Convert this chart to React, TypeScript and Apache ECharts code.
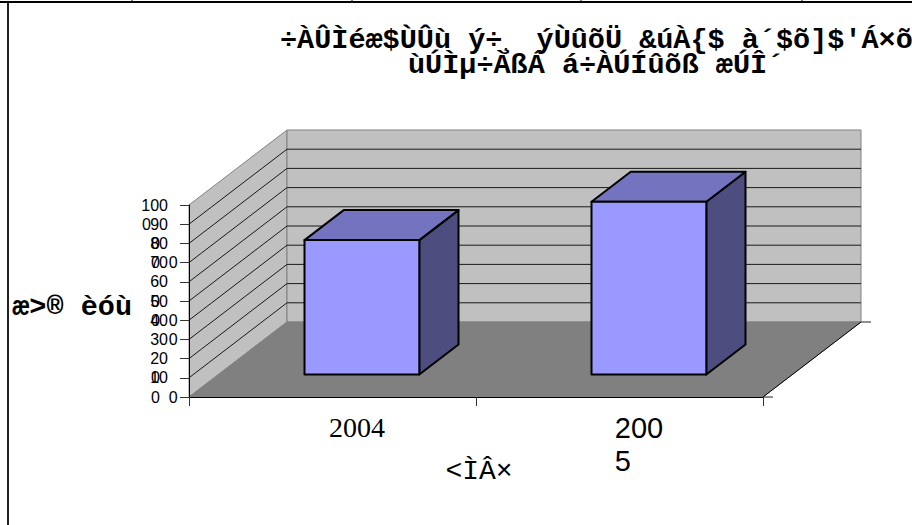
import React, { useEffect, useRef } from "react";
import * as echarts from "echarts";

const titleLine1 = "÷ÀÛÌéæ$ÙÛù ý÷¸ ýÙûõÜ &úÀ{$ à´$õ]$'Á×õ";
const titleLine2 = "ùÚÌµ÷ÀßÁ á÷ÀÚÍûõß æÚÎ´";
const yAxisName = "æ>® èóù";
const xAxisName = "<ÌÂ×";
const categories = ["2004", "2005"];
const values = [70, 90];
const gridValues = [10, 20, 30, 40, 50, 60, 70, 80, 90];
const yLabels: Record<number, string> = { 100: "100", 90: "90", 80: "80", 70: "70", 60: "60", 50: "50", 40: "40", 30: "30", 20: "20", 10: "10", 0: "" };
const fs = "\u2007";
const yOverlay: Record<number, string> = {
  100: "",
  90: "0",
  80: fs + "0",
  70: fs + "0" + fs + "0",
  60: "",
  50: fs + "0",
  40: fs + "0" + fs + "0",
  30: fs + fs + fs + "0",
  20: "",
  10: fs + "0",
  0: fs + "0" + fs + "0",
};
const topTicks = [132, 352, 581, 802];

const DX = 98;
const DY = -75;
const FRONT = 0.3;
const DEPTH = 0.4;
const BAR = 0.4;

function corners(api: any) {
  const band = api.size([1, 0])[0];
  const x0 = api.coord([0, 0])[0] - band / 2;
  const x1 = x0 + band * 2;
  const y0 = api.coord([0, 0])[1];
  const y1 = api.coord([0, 100])[1];
  return { x0, x1, y0, y1 };
}

const renderRoom = (_: any, api: any) => {
  const { x0, x1, y0, y1 } = corners(api);
  const wall = { fill: "#C0C0C0", stroke: "#808080", lineWidth: 1 };
  return {
    type: "group",
    children: [
      { type: "polygon", shape: { points: [[x0, y0], [x0, y1], [x0 + DX, y1 + DY], [x0 + DX, y0 + DY]] }, style: wall },
      { type: "polygon", shape: { points: [[x0 + DX, y1 + DY], [x1 + DX, y1 + DY], [x1 + DX, y0 + DY], [x0 + DX, y0 + DY]] }, style: wall },
      { type: "polygon", shape: { points: [[x0, y0], [x0 + DX, y0 + DY], [x1 + DX, y0 + DY], [x1, y0]] }, style: { fill: "#808080", stroke: "#808080", lineWidth: 1 } },
      { type: "line", shape: { x1, y1: y0, x2: x1 + DX, y2: y0 + DY }, style: { stroke: "#000", lineWidth: 1 } },
      { type: "line", shape: { x1, y1: y0, x2: x1 + 10, y2: y0 }, style: { stroke: "#222", lineWidth: 1 } },
      { type: "line", shape: { x1: x1 + DX, y1: y0 + DY, x2: x1 + DX + 10, y2: y0 + DY }, style: { stroke: "#222", lineWidth: 1 } },
    ],
  };
};

const renderGrid = (_: any, api: any) => {
  const { x0, x1 } = corners(api);
  const y = api.coord([0, api.value(0)])[1];
  return {
    type: "polyline",
    shape: { points: [[x0, y], [x0 + DX, y + DY], [x1 + DX, y + DY]] },
    style: { fill: "none", stroke: "#1a1a1a", lineWidth: 1 },
  };
};

const renderBar = (_: any, api: any) => {
  const band = api.size([1, 0])[0];
  const c = api.coord([api.value(0), 0]);
  const t = api.coord([api.value(0), api.value(1)]);
  const w = band * BAR;
  const l = c[0] - w / 2 + DX * FRONT;
  const r = l + w;
  const b = c[1] + DY * FRONT;
  const top = t[1] + DY * FRONT;
  const ox = DX * DEPTH;
  const oy = DY * DEPTH;
  const stroke = { stroke: "#000", lineWidth: 2, lineJoin: "round" };
  return {
    type: "group",
    children: [
      { type: "polygon", shape: { points: [[r, b], [r, top], [r + ox, top + oy], [r + ox, b + oy]] }, style: { fill: "#4D4D80", ...stroke } },
      { type: "polygon", shape: { points: [[l, top], [l + ox, top + oy], [r + ox, top + oy], [r, top]] }, style: { fill: "#7373BF", ...stroke } },
      { type: "rect", shape: { x: l, y: top, width: w, height: b - top }, style: { fill: "#9999FF", ...stroke } },
    ],
  };
};

export default function App() {
  const ref = useRef<HTMLDivElement>(null);
  useEffect(() => {
    const chart = echarts.init(ref.current!, null, { renderer: "svg" });
    const mono = "'Liberation Mono', monospace";
    const sans = "'Liberation Sans', sans-serif";
    const serif = "'Liberation Serif', serif";
    chart.setOption({
      animation: false,
      backgroundColor: "#fff",
      title: [
        { text: titleLine1, left: 280, top: 26, padding: 0, textStyle: { fontFamily: mono, fontSize: 28.5, fontWeight: "bold", color: "#000" } },
        { text: titleLine2, left: 408, top: 51, padding: 0, textStyle: { fontFamily: mono, fontSize: 28.5, fontWeight: "bold", color: "#000" } },
      ],
      grid: { left: 189, top: 205, width: 574, height: 192, containLabel: false, outerBoundsMode: "none" },
      xAxis: {
        type: "category",
        data: categories,
        z: 5,
        name: xAxisName,
        nameLocation: "middle",
        nameGap: 60,
        nameMoveOverlap: false,
        nameTextStyle: { fontFamily: mono, fontSize: 28, color: "#000", padding: [0, 0, 0, 6] },
        axisLine: { lineStyle: { color: "#000", width: 1 } },
        axisTick: { show: true, length: 9, lineStyle: { color: "#333" } },
        axisLabel: {
          margin: 14,
          color: "#000",
          fontFamily: sans,
          formatter: (v: string) => (v === categories[0] ? `{a|${v}}` : `{b|${v.slice(0, 3)}}\n{b|${v.slice(3)}}`),
          rich: {
            a: { fontFamily: serif, fontSize: 28, lineHeight: 33, padding: [0, 0, 0, 49], color: "#000" },
            b: { fontFamily: sans, fontSize: 29, lineHeight: 33, padding: [0, 0, 0, 39], align: "left", color: "#000" },
          },
        },
      },
      yAxis: [
        {
          type: "value",
          min: 0,
          max: 100,
          interval: 10,
          z: 5,
          name: yAxisName,
          nameLocation: "middle",
          nameRotate: 0,
          nameGap: 57,
          nameMoveOverlap: false,
          nameTextStyle: { fontFamily: mono, fontSize: 28.5, fontWeight: "bold", color: "#000", verticalAlign: "top", lineHeight: 12 },
          splitLine: { show: false },
          axisLine: { show: true, lineStyle: { color: "#000", width: 1 } },
          axisTick: { show: true, length: 9, lineStyle: { color: "#333" } },
          axisLabel: { margin: 21, fontFamily: sans, fontSize: 16, color: "#000", formatter: (v: number) => yLabels[v] ?? "" },
        },
        {
          type: "value",
          position: "left",
          min: 0,
          max: 100,
          interval: 10,
          z: 5,
          splitLine: { show: false },
          axisLine: { show: false },
          axisTick: { show: false },
          axisLabel: { margin: 47, align: "left", fontFamily: sans, fontSize: 16, color: "#000", formatter: (v: number) => yOverlay[v] ?? "" },
        },
      ],
      graphic: [
        { type: "rect", shape: { x: 0, y: 1, width: 912, height: 2 }, style: { fill: "#000" } },
        { type: "rect", shape: { x: 7, y: 3, width: 2, height: 522 }, style: { fill: "#222" } },
        ...topTicks.map((x) => ({ type: "line", shape: { x1: x, y1: 0, x2: x, y2: 2 }, style: { stroke: "#000", lineWidth: 1 } })),
      ],
      series: [
        { type: "custom", coordinateSystem: "cartesian2d", renderItem: renderRoom, data: [[0]], clip: false, silent: true, z: 1 },
        { type: "custom", coordinateSystem: "cartesian2d", renderItem: renderGrid, data: gridValues.map((v) => [v]), clip: false, silent: true, z: 2 },
        { type: "custom", coordinateSystem: "cartesian2d", renderItem: renderBar, data: values.map((v, i) => [i, v]), clip: false, silent: true, z: 3, encode: { x: 0, y: 1 } },
      ],
    });
    return () => chart.dispose();
  }, []);
  return <div ref={ref} style={{ position: "fixed", left: 0, top: 0, width: 912, height: 525 }} />;
}
